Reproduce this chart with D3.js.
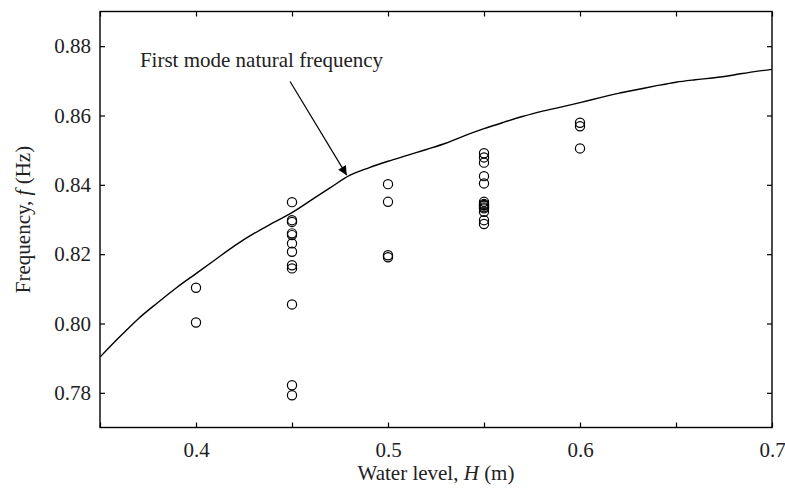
<!DOCTYPE html>
<html>
<head>
<meta charset="utf-8">
<script src="https://cdn.jsdelivr.net/npm/d3@7"></script>
<style>
  body { margin: 0; background: #fff; }
  svg text { font-family: "Liberation Serif", "Times New Roman", serif; fill: #222; }
  .axis path { display: none; }
  .axis line { stroke: #000; stroke-width: 1.2; }
</style>
</head>
<body>
<svg id="chart"></svg>
<script>
const width = 785;
const height = 498;
const margin = { top: 11.5, right: 13, bottom: 70.5, left: 100 };
const fontSize = 21;

// natural frequency curve (first mode)
const curveH = [0.35, 0.36, 0.37, 0.38, 0.39, 0.40, 0.41, 0.42, 0.43, 0.44, 0.45, 0.46,
    0.47, 0.48, 0.49, 0.50, 0.51, 0.52, 0.53, 0.54, 0.55, 0.56, 0.57, 0.58, 0.59, 0.60,
    0.61, 0.62, 0.63, 0.64, 0.65, 0.66, 0.67, 0.68, 0.69, 0.70];
const curveF = [0.7903, 0.7960, 0.8014, 0.8060, 0.8104, 0.8144, 0.8184, 0.8224, 0.8259, 0.8290, 0.8320, 0.8356,
    0.8392, 0.8427, 0.8449, 0.8468, 0.8485, 0.8502, 0.8520, 0.8542, 0.8562, 0.8580, 0.8597, 0.8612, 0.8624, 0.8637,
    0.8651, 0.8664, 0.8675, 0.8686, 0.8696, 0.8703, 0.8709, 0.8717, 0.8726, 0.8733];

// measured points
const measH = [0.40, 0.40,
    0.45, 0.45, 0.45, 0.45, 0.45, 0.45, 0.45, 0.45, 0.45, 0.45, 0.45, 0.45,
    0.50, 0.50, 0.50, 0.50,
    0.55, 0.55, 0.55, 0.55, 0.55, 0.55, 0.55, 0.55, 0.55, 0.55, 0.55, 0.55, 0.55, 0.55,
    0.60, 0.60, 0.60];
const measF = [0.8103, 0.8003,
    0.8350, 0.8298, 0.8293, 0.8260, 0.8255, 0.8231, 0.8207, 0.8168, 0.8159, 0.8055, 0.7822, 0.7793,
    0.8402, 0.8351, 0.8197, 0.8191,
    0.8491, 0.8479, 0.8464, 0.8425, 0.8404, 0.8351, 0.8345, 0.8340, 0.8335, 0.8332, 0.8322, 0.8298, 0.8287, 0.8342,
    0.8579, 0.8569, 0.8505];

const xTicks = [0.35, 0.40, 0.45, 0.50, 0.55, 0.60, 0.65, 0.70];
const xLabels = [0.4, 0.5, 0.6, 0.7];
const yTicks = [0.78, 0.80, 0.82, 0.84, 0.86, 0.88];

// annotation: text anchor and arrow (start -> tip), in data units
const noteText = 'First mode natural frequency';
const notePos = [0.3708, 0.8741];
const arrowFrom = [0.4490, 0.8698];
const arrowTo = [0.4785, 0.8428];

const svg = d3.select('#chart')
    .attr('width', width)
    .attr('height', height);

const x = d3.scaleLinear()
    .domain([0.35, 0.70])
    .range([margin.left, width - margin.right]);

const y = d3.scaleLinear()
    .domain([0.77, 0.89])
    .range([height - margin.bottom, margin.top]);

svg.append('defs').append('marker')
    .attr('id', 'head')
    .attr('viewBox', '0 0 10 10')
    .attr('refX', 10)
    .attr('refY', 5)
    .attr('markerWidth', 13)
    .attr('markerHeight', 9)
    .attr('markerUnits', 'userSpaceOnUse')
    .attr('orient', 'auto')
    .append('path')
    .attr('d', 'M0,0 L10,5 L0,10 Z')
    .attr('fill', '#000');

// axes with inward ticks on all four sides
const labelFmt = d => xLabels.some(v => Math.abs(v - d) < 1e-9) ? d.toFixed(1) : '';

const bottom = svg.append('g')
    .attr('class', 'axis')
    .attr('transform', `translate(0,${y.range()[0]})`)
    .call(d3.axisBottom(x).tickValues(xTicks).tickSize(-5).tickPadding(15).tickFormat(labelFmt));
bottom.selectAll('text').attr('font-size', fontSize);

svg.append('g')
    .attr('class', 'axis')
    .attr('transform', `translate(0,${y.range()[1]})`)
    .call(d3.axisTop(x).tickValues(xTicks).tickSize(-5).tickFormat(''));

const left = svg.append('g')
    .attr('class', 'axis')
    .attr('transform', `translate(${x.range()[0]},0)`)
    .call(d3.axisLeft(y).tickValues(yTicks).tickSize(-5).tickPadding(9).tickFormat(d3.format('.2f')));
left.selectAll('text').attr('font-size', fontSize);

svg.append('g')
    .attr('class', 'axis')
    .attr('transform', `translate(${x.range()[1]},0)`)
    .call(d3.axisRight(y).tickValues(yTicks).tickSize(-5).tickFormat(''));

// frame
svg.append('rect')
    .attr('x', x.range()[0])
    .attr('y', y.range()[1])
    .attr('width', x.range()[1] - x.range()[0])
    .attr('height', y.range()[0] - y.range()[1])
    .attr('fill', 'none')
    .attr('stroke', '#000')
    .attr('stroke-width', 1.4);

// curve
const line = d3.line()
    .x((d, i) => x(curveH[i]))
    .y(d => y(d))
    .curve(d3.curveMonotoneX);

svg.append('path')
    .datum(curveF)
    .attr('d', line)
    .attr('fill', 'none')
    .attr('stroke', '#000')
    .attr('stroke-width', 1.4);

// circles
svg.append('g')
    .selectAll('circle')
    .data(measF)
    .join('circle')
    .attr('cx', (d, i) => x(measH[i]))
    .attr('cy', d => y(d))
    .attr('r', 4.6)
    .attr('fill', 'none')
    .attr('stroke', '#000')
    .attr('stroke-width', 1.2);

// annotation
svg.append('text')
    .attr('x', x(notePos[0]))
    .attr('y', y(notePos[1]))
    .attr('font-size', fontSize)
    .text(noteText);

svg.append('line')
    .attr('x1', x(arrowFrom[0]))
    .attr('y1', y(arrowFrom[1]))
    .attr('x2', x(arrowTo[0]))
    .attr('y2', y(arrowTo[1]))
    .attr('stroke', '#000')
    .attr('stroke-width', 1.2)
    .attr('marker-end', 'url(#head)');

// axis titles
const xTitle = svg.append('text')
    .attr('x', (x.range()[0] + x.range()[1]) / 2)
    .attr('y', 480)
    .attr('text-anchor', 'middle')
    .attr('font-size', fontSize);
xTitle.append('tspan').text('Water level, ');
xTitle.append('tspan').attr('font-style', 'italic').text('H');
xTitle.append('tspan').text(' (m)');

const yTitle = svg.append('text')
    .attr('transform', `translate(30,${(y.range()[0] + y.range()[1]) / 2}) rotate(-90)`)
    .attr('text-anchor', 'middle')
    .attr('font-size', fontSize);
yTitle.append('tspan').text('Frequency, ');
yTitle.append('tspan').attr('font-style', 'italic').text('f');
yTitle.append('tspan').text(' (Hz)');
</script>
</body>
</html>
